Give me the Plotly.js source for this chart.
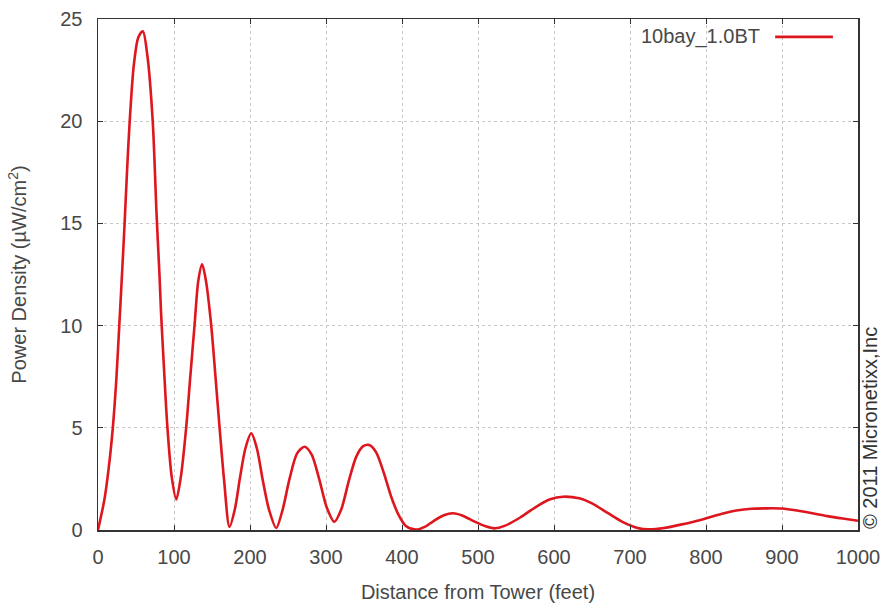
<!DOCTYPE html>
<html>
<head>
<meta charset="utf-8">
<script src="https://cdn.plot.ly/plotly-3.0.1.min.js"></script>
<style>html,body{margin:0;padding:0;background:#fff;}#chart{width:882px;height:606px;}</style>
</head>
<body>
<div id="chart"></div>
<script>
// Distance from tower (feet)
const distance = [0,8.5,14,19.5,24,28,32,35,38,41.4,47,53,59,65,72,77,81,83,87,91,97,103,109,116,121,127,132,137,142,149,155,160,166,173,180,187,194,201.6,209,217,225,234.5,243,252,262,271.7,281,291,301,311,320,330,340,349,357,366,376,386,396,405,418,430,442,455,467,480,495,510,522,535,555,575,595,612,633,650,670,690,710,725,745,765,785,800,820,840,860,880,900,920,940,960,980,1000];
// Power density (µW/cm²)
const density = [0,1.5,3,5,7.3,10,12.8,15,17.4,19.8,22.7,24.1,24.4,23.2,20,15.5,12.4,10.6,7.8,5.2,2.6,1.5,2.6,5,7.3,10,12.2,13.0,12.2,10,7.3,5,2.4,0.15,1,2.6,4.0,4.73,4.0,2.4,1.0,0.1,1.0,2.5,3.75,4.07,3.7,2.5,1.1,0.4,1.0,2.4,3.6,4.1,4.16,3.8,2.8,1.6,0.7,0.2,0.02,0.15,0.45,0.72,0.82,0.7,0.42,0.18,0.08,0.2,0.6,1.1,1.5,1.63,1.55,1.3,0.85,0.4,0.1,0.03,0.1,0.25,0.42,0.57,0.78,0.95,1.04,1.06,1.05,0.95,0.82,0.68,0.56,0.45];
const seriesName = "10bay_1.0BT";
const xTicks = [0,100,200,300,400,500,600,700,800,900,1000];
const yTicks = [0,5,10,15,20,25];

const lineColor = "rgb(222,22,30)";
const txt = "#484848";
const fontFam = "Liberation Sans, Arial, sans-serif";
const fs = 20;

const trace = {
  x: distance, y: density, type: "scatter", mode: "lines", name: seriesName,
  line: {color: lineColor, width: 2.6, shape: "spline", smoothing: 0.8},
  showlegend: false, hoverinfo: "skip"
};

const axisCommon = {
  showline: true, mirror: "ticks", linecolor: "#333", linewidth: 1.5,
  ticks: "inside", ticklen: 5, tickcolor: "#333", tickwidth: 1,
  showgrid: true, gridcolor: "#c8c8c8", griddash: "dot", gridwidth: 1,
  zeroline: false, automargin: false, tickfont: {family: fontFam, size: fs, color: txt}
};

const layout = {
  width: 882, height: 606,
  margin: {l: 98, r: 24, t: 19, b: 76},
  paper_bgcolor: "#fff", plot_bgcolor: "#fff",
  font: {family: fontFam, color: txt},
  xaxis: Object.assign({}, axisCommon, {
    range: [0, 1000], tickvals: xTicks, ticktext: xTicks.map(String), ticklabelstandoff: 8,
    title: {text: "Distance from Tower (feet)", font: {family: fontFam, size: fs, color: txt}, standoff: 18}
  }),
  yaxis: Object.assign({}, axisCommon, {
    range: [0, 25], tickvals: yTicks, ticktext: yTicks.map(String), ticklabelstandoff: 10,
    title: {text: "Power Density (µW/cm<sup>2</sup>)", font: {family: fontFam, size: fs, color: txt}, standoff: 28}
  }),
  annotations: [
    {xref: "paper", yref: "paper", x: 0.874, y: 0.965, xanchor: "right", yanchor: "middle",
     text: seriesName, showarrow: false, font: {family: fontFam, size: fs, color: txt}},
    {xref: "paper", yref: "paper", x: 1.0, y: 0.0, xanchor: "left", yanchor: "bottom",
     text: "© 2011 Micronetixx,Inc", textangle: -90, showarrow: false, borderpad: 0,
     font: {family: fontFam, size: fs, color: "#333"}}
  ],
  shapes: [
    {type: "line", xref: "paper", yref: "paper", x0: 0.891, x1: 0.967, y0: 0.965, y1: 0.965,
     line: {color: lineColor, width: 2.6}}
  ]
};

Plotly.newPlot("chart", [trace], layout, {staticPlot: true, displayModeBar: false});
</script>
</body>
</html>
